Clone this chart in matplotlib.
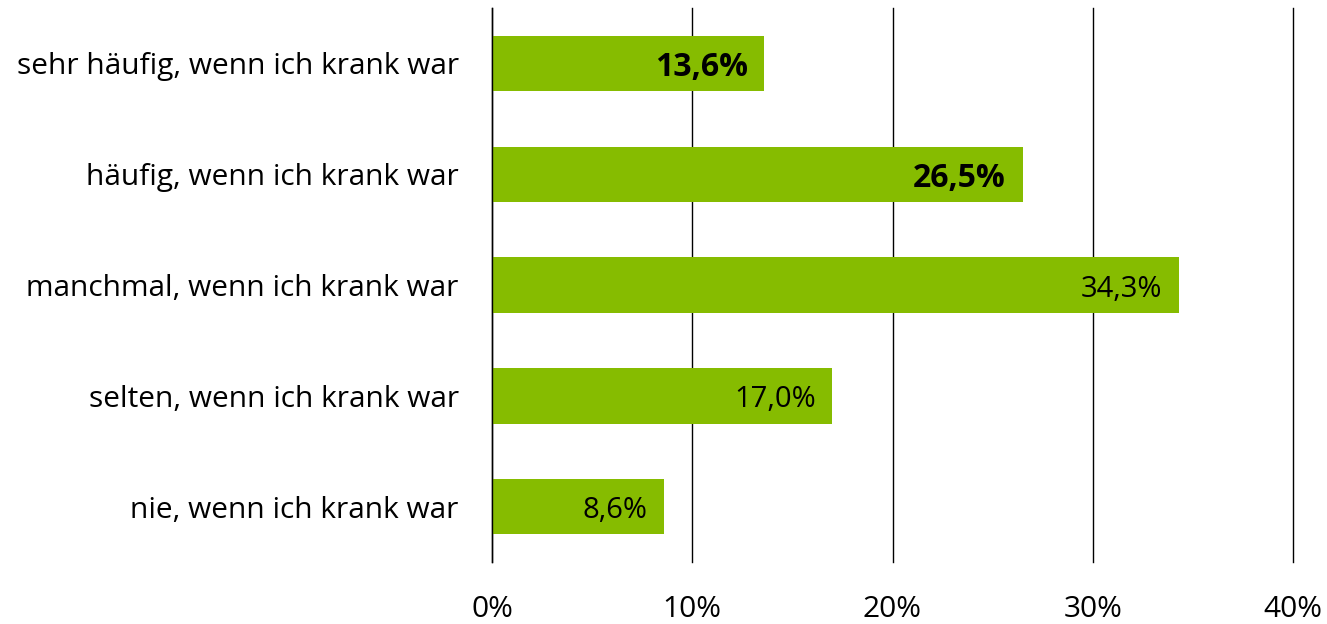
import matplotlib.pyplot as plt
from matplotlib.ticker import FixedLocator

categories = [
    "sehr häufig, wenn ich krank war",
    "häufig, wenn ich krank war",
    "manchmal, wenn ich krank war",
    "selten, wenn ich krank war",
    "nie, wenn ich krank war",
]
values = [13.6, 26.5, 34.3, 17.0, 8.6]
bold_labels = [True, True, False, False, False]
xticks = [0, 10, 20, 30, 40]
xtick_labels = ["0%", "10%", "20%", "30%", "40%"]

plt.rcParams["font.family"] = ["Open Sans", "DejaVu Sans"]

fig = plt.figure(figsize=(13.27, 6.24), dpi=100)
ax = fig.add_axes([492 / 1327, 1 - 562 / 624, (1293 - 492) / 1327, (562 - 8) / 624])

pos = list(range(len(categories)))
ax.barh(pos, values, height=0.5, color="#86BC00", zorder=2)

for y, v, b in zip(pos, values, bold_labels):
    txt = f"{v:.1f}%".replace(".", ",")
    ax.annotate(txt, (v, y), xytext=(-12, -3), textcoords="offset points",
                ha="right", va="center", fontsize=23 if b else 21,
                fontweight="bold" if b else "normal", color="black", zorder=3)

ax.set_xlim(0, 40)
ax.set_ylim(len(categories) - 0.5, -0.5)
ax.xaxis.set_major_locator(FixedLocator(xticks))
ax.set_xticklabels(xtick_labels)
ax.set_yticks(pos)
ax.set_yticklabels(categories)

ax.tick_params(axis="x", length=0, pad=24, labelsize=21.5)
ax.tick_params(axis="y", length=0, pad=24, labelsize=21.5)

for s in ["top", "right", "bottom"]:
    ax.spines[s].set_visible(False)
ax.spines["left"].set_color("black")
ax.spines["left"].set_linewidth(1)

ax.grid(axis="x", color="black", linewidth=1, zorder=1)
for gl in ax.get_xgridlines():
    gl.set_clip_on(False)
ax.set_axisbelow(True)

fig.savefig("out.png", dpi=100)
